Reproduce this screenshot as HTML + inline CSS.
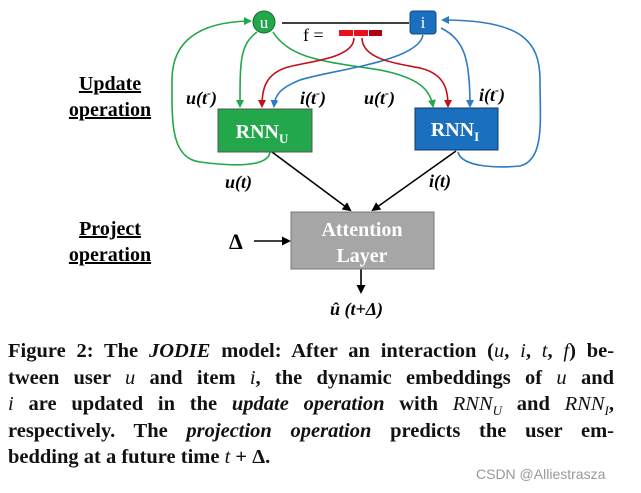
<!DOCTYPE html>
<html><head><meta charset="utf-8"><style>
body{margin:0;background:#fff;width:641px;height:493px;overflow:hidden;position:relative}
.cap{position:absolute;left:8px;top:338px;width:606px;font-family:"Liberation Serif",serif;font-weight:bold;font-size:20.5px;line-height:26.6px;color:#111}
.cap div{white-space:nowrap;text-align:justify;text-align-last:justify;height:26.6px}
.cap div.last{text-align-last:left}
.cap i{font-weight:normal}
.cap sub{font-size:13px;line-height:0}
.wm{position:absolute;left:476px;top:466px;font-family:"Liberation Sans",sans-serif;font-size:14px;color:#999}
</style></head><body>
<svg width="641" height="330" style="position:absolute;left:0;top:0" font-family="Liberation Serif,serif">
<defs>
<marker id="g" markerWidth="8" markerHeight="8" refX="6" refY="4" orient="auto" markerUnits="userSpaceOnUse"><path d="M0,0L8,4L0,8z" fill="#22a84a"/></marker>
<marker id="b" markerWidth="8" markerHeight="8" refX="6" refY="4" orient="auto" markerUnits="userSpaceOnUse"><path d="M0,0L8,4L0,8z" fill="#2d7bc4"/></marker>
<marker id="r" markerWidth="8" markerHeight="8" refX="6" refY="4" orient="auto" markerUnits="userSpaceOnUse"><path d="M0,0L8,4L0,8z" fill="#c0101a"/></marker>
<marker id="k" markerWidth="9" markerHeight="9" refX="7" refY="4.5" orient="auto" markerUnits="userSpaceOnUse"><path d="M0,0L9,4.5L0,9z" fill="#000"/></marker>
</defs>
<g fill="none" stroke-width="1.6">
<line x1="282" y1="23" x2="409" y2="23" stroke="#000"/>
<path d="M270,152 C268,168 230,166 200,162 C170,158 172,120 172,80 C172,40 200,22 250,21" stroke="#22a84a" marker-end="url(#g)"/>
<path d="M257,32 C240,45 240,60 240,106" stroke="#22a84a" marker-end="url(#g)"/>
<path d="M273,32 C290,60 330,62 380,70 C420,78 430,90 433,106" stroke="#22a84a" marker-end="url(#g)"/>
<path d="M458,152 C462,168 500,168 520,166 C545,160 540,120 540,80 C540,40 520,20 443,20" stroke="#2d7bc4" marker-end="url(#b)"/>
<path d="M423,35 C418,62 330,70 300,80 C280,88 275,95 274,106" stroke="#2d7bc4" marker-end="url(#b)"/>
<path d="M441,28 C465,40 470,60 470,106" stroke="#2d7bc4" marker-end="url(#b)"/>
<path d="M354,38 C354,60 300,62 285,68 C265,75 262,90 262,106" stroke="#c0101a" marker-end="url(#r)"/>
<path d="M362,38 C362,60 400,64 420,68 C445,74 448,90 448,106" stroke="#c0101a" marker-end="url(#r)"/>
<line x1="272" y1="152" x2="350" y2="210" stroke="#000" marker-end="url(#k)"/>
<line x1="456" y1="151" x2="373" y2="210" stroke="#000" marker-end="url(#k)"/>
<line x1="254" y1="241" x2="289" y2="241" stroke="#000" marker-end="url(#k)"/>
<line x1="361" y1="269" x2="361" y2="292" stroke="#000" marker-end="url(#k)"/>
</g>
<rect x="339" y="30" width="14" height="6" fill="#e8101a"/><rect x="354" y="30" width="14" height="6" fill="#e8101a"/><rect x="369" y="30" width="13" height="6" fill="#b00010"/>
<text x="303" y="41" font-size="18">f =</text>
<circle cx="264" cy="22" r="11" fill="#22a84a" stroke="#176b30"/>
<text x="264" y="28" font-size="17" fill="#fff" text-anchor="middle">u</text>
<rect x="410" y="11" width="26" height="23" rx="3" fill="#1a6fbe" stroke="#0c4a82"/>
<text x="423" y="28" font-size="17" fill="#fff" text-anchor="middle">i</text>
<rect x="218" y="109" width="94" height="43" fill="#22a84a" stroke="#555"/>
<text x="262" y="138" font-size="20" font-weight="bold" fill="#fff" text-anchor="middle">RNN<tspan font-size="13" dy="5">U</tspan></text>
<rect x="415" y="108" width="83" height="42" fill="#1a6fbe" stroke="#0c3a66"/>
<text x="455" y="136" font-size="20" font-weight="bold" fill="#fff" text-anchor="middle">RNN<tspan font-size="13" dy="5">I</tspan></text>
<rect x="291" y="212" width="143" height="57" fill="#a6a6a6" stroke="#777"/>
<text x="362" y="236" font-size="20" font-weight="bold" fill="#fff" text-anchor="middle">Attention</text>
<text x="362" y="262" font-size="20" font-weight="bold" fill="#fff" text-anchor="middle">Layer</text>
<g font-size="18" font-weight="bold" font-style="italic">
<text x="186" y="104">u(t<tspan dy="-7" font-size="12">-</tspan><tspan dy="7">)</tspan></text>
<text x="300" y="104">i(t<tspan dy="-7" font-size="12">-</tspan><tspan dy="7">)</tspan></text>
<text x="364" y="104">u(t<tspan dy="-7" font-size="12">-</tspan><tspan dy="7">)</tspan></text>
<text x="479" y="101">i(t<tspan dy="-7" font-size="12">-</tspan><tspan dy="7">)</tspan></text>
<text x="225" y="188">u(t)</text>
<text x="429" y="187">i(t)</text>
<text x="330" y="315">û (t+Δ)</text>
</g>
<g font-size="20" font-weight="bold" text-decoration="underline" text-anchor="middle">
<text x="110" y="90">Update</text>
<text x="110" y="116">operation</text>
<text x="110" y="235">Project</text>
<text x="110" y="261">operation</text>
</g>
<text x="229" y="249" font-size="22" font-weight="bold">Δ</text>
</svg>
<div class="cap">
<div>Figure 2: The <b style="font-style:italic">JODIE</b> model: After an interaction (<i>u</i>, <i>i</i>, <i>t</i>, <i>f</i>) be-</div>
<div>tween user <i>u</i> and item <i>i</i>, the dynamic embeddings of <i>u</i> and</div>
<div><i>i</i> are updated in the <b style="font-style:italic">update operation</b> with <i>RNN<sub>U</sub></i> and <i>RNN<sub>I</sub></i>,</div>
<div>respectively. The <b style="font-style:italic">projection operation</b> predicts the user em-</div>
<div class="last">bedding at a future time <i>t</i> + Δ.</div>
</div>
<div class="wm">CSDN @Alliestrasza</div>
</body></html>
